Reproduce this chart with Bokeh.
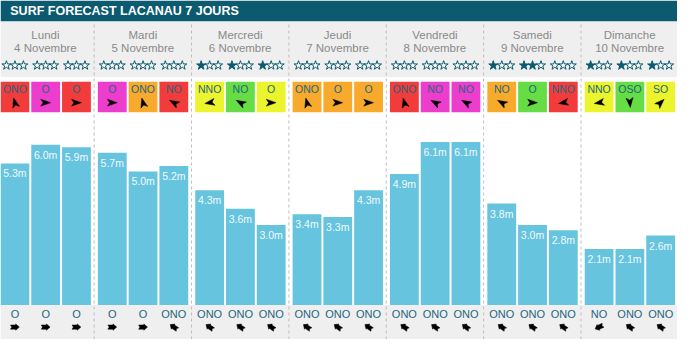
import math
from bokeh.plotting import figure
from bokeh.models import Range1d, ColumnDataSource
from bokeh.core.properties import value
from bokeh.embed import file_html
from bokeh.resources import INLINE

# ---------------- data ----------------
title = "SURF FORECAST LACANAU 7 JOURS"
days = ["Lundi", "Mardi", "Mercredi", "Jeudi", "Vendredi", "Samedi", "Dimanche"]
dates = ["4 Novembre", "5 Novembre", "6 Novembre", "7 Novembre",
         "8 Novembre", "9 Novembre", "10 Novembre"]
wave_heights = [5.3, 6.0, 5.9, 5.7, 5.0, 5.2, 4.3, 3.6, 3.0, 3.4, 3.3, 4.3,
                4.9, 6.1, 6.1, 3.8, 3.0, 2.8, 2.1, 2.1, 2.6]
star_ratings = [0, 0, 0, 0, 0, 0, 1, 1, 1, 0, 0, 0, 0, 0, 0, 1, 2, 0, 1, 1, 1]
wind_dirs = ["ONO", "O", "O", "O", "ONO", "NO", "NNO", "NO", "O", "ONO", "O", "O",
             "ONO", "NO", "NO", "NO", "O", "NNO", "NNO", "OSO", "SO"]
wind_quality = ["red", "magenta", "red", "magenta", "orange", "red",
                "yellow", "green", "yellow", "orange", "orange", "orange",
                "red", "magenta", "magenta", "orange", "green", "red",
                "yellow", "green", "yellow"]
swell_dirs = ["O", "O", "O", "O", "O", "ONO", "ONO", "ONO", "ONO", "ONO", "ONO", "ONO",
              "ONO", "ONO", "ONO", "ONO", "ONO", "ONO", "NO", "ONO", "ONO"]

# ---------------- style ----------------
quality_colors = {"red": "#f23b3b", "magenta": "#ec3dcc", "orange": "#f7aa2c",
                  "yellow": "#ebf42c", "green": "#66dd44"}
wind_arrow_angle = {"O": 0, "ONO": 105, "NO": 150, "NNO": 190, "OSO": 275, "SO": 45}
swell_arrow_angle = {"O": 0, "ONO": 145, "NO": 205}
TEAL = "#0c5a6f"
TXT_TEAL = "#1e6680"
BAR = "#66c4de"
GRAY_BG = "#efefef"
FONT = value("Liberation Sans")

# arrow outlines (pixel units, pointing right)
WIND_SHAPE = [(5.0, 0.0), (-5.0, 3.6), (-2.6, 0.0), (-5.0, -3.6)]
SWELL_SHAPE = [(-4.5, 2.2), (-3.2, 0.0), (-4.5, -2.2), (0.8, -2.2), (0.8, -3.3),
               (4.5, 0.0), (0.8, 3.3), (0.8, 2.2)]

W, H = 693, 355
DAY_W, SLOT_P, BAR_W = 99.67, 31.5, 29.5
PX_PER_M, BASE = 28.0, 319.0


def arrow_paths(cx, cy, angles, shape):
    pxs, pys = [], []
    for x0, y0, a in zip(cx, cy, angles):
        r = math.radians(a)
        c, s = math.cos(r), math.sin(r)
        pxs.append([x0 + u * c - v * s for u, v in shape])
        pys.append([y0 + u * s + v * c for u, v in shape])
    return pxs, pys


p = figure(width=677, height=339, x_range=Range1d(0, W), y_range=Range1d(0, H),
           output_backend="svg", toolbar_location=None, min_border=0,
           x_axis_location=None, y_axis_location=None)
p.grid.visible = False
p.outline_line_color = None
p.background_fill_color = "white"
p.border_fill_color = "white"
p.extra_y_ranges = {"wave": Range1d(-(H - BASE) / PX_PER_M, BASE / PX_PER_M)}

# background bands
p.quad(left=[0, 0, 0], right=[W, W, W], bottom=[H - 22, H - 80, 0], top=[H, H - 22, H - BASE],
       fill_color=[TEAL, GRAY_BG, GRAY_BG], line_color=None)

# slots
n = len(wave_heights)
xs = [(i // 3) * DAY_W + (i % 3) * SLOT_P + BAR_W / 2 for i in range(n)]

# separators
sep_x = [d * DAY_W - 3.8 for d in range(1, len(days))]
p.segment(x0=sep_x, x1=sep_x, y0=[0] * len(sep_x), y1=[H - 22] * len(sep_x),
          line_color="#bdbdbd", line_width=1, line_dash="3 3")

# title
p.text(x=[10], y=[H - 11.5], text=[title], text_font=FONT, text_font_style="bold",
       text_font_size="12.5px", text_color="white", text_align="left", text_baseline="middle")

# day names / dates
day_x = [d * DAY_W + 46 for d in range(len(days))]
p.text(x=day_x, y=[H - 36] * len(days), text=days, text_font=FONT, text_font_size="11.5px",
       text_color="#8a8a8a", text_align="center", text_baseline="middle")
p.text(x=day_x, y=[H - 49.5] * len(days), text=dates, text_font=FONT, text_font_size="11.5px",
       text_color="#8a8a8a", text_align="center", text_baseline="middle")

# stars
sx, sy, sfill = [], [], []
for i, r in enumerate(star_ratings):
    for k in range(3):
        sx.append(xs[i] + (k - 1) * 8.7)
        sy.append(H - 68)
        sfill.append(TEAL if k < r else "white")
p.scatter(x=sx, y=sy, marker="star", size=9.5, fill_color=sfill, line_color=TEAL, line_width=1)

# wind boxes
wsrc = ColumnDataSource(dict(
    left=[x - BAR_W / 2 for x in xs], right=[x + BAR_W / 2 for x in xs],
    color=[quality_colors[q] for q in wind_quality], x=xs, d=wind_dirs))
p.quad(left="left", right="right", bottom=H - 117, top=H - 85, fill_color="color",
       line_color=None, source=wsrc)
p.text(x="x", y=H - 93, text="d", text_font=FONT, text_font_size="10.5px", text_color=TXT_TEAL,
       text_align="center", text_baseline="middle", source=wsrc)
wx, wy = arrow_paths(xs, [H - 107] * n, [wind_arrow_angle[d] for d in wind_dirs], WIND_SHAPE)
p.patches(xs=wx, ys=wy, fill_color="black", line_color="black", line_width=0.5)

# bars
bsrc = ColumnDataSource(dict(x=xs, h=wave_heights,
                             lab=[f"{v:.1f}m" for v in wave_heights],
                             ly=[v - 10.5 / PX_PER_M for v in wave_heights]))
p.vbar(x="x", top="h", bottom=0, width=BAR_W, fill_color=BAR, line_color=None,
       y_range_name="wave", source=bsrc)
p.text(x="x", y="ly", text="lab", text_font=FONT, text_font_size="10.5px", text_color="#f2fafc",
       text_align="center", text_baseline="middle", y_range_name="wave", source=bsrc)

# swell directions
ssrc = ColumnDataSource(dict(x=xs, d=swell_dirs))
p.text(x="x", y=H - 328, text="d", text_font=FONT, text_font_size="11px", text_color=TXT_TEAL,
       text_align="center", text_baseline="middle", source=ssrc)
gx, gy = arrow_paths(xs, [H - 342] * n, [swell_arrow_angle[d] for d in swell_dirs], SWELL_SHAPE)
p.patches(xs=gx, ys=gy, fill_color="black", line_color="black", line_width=0.5)

open("out.html", "w").write(file_html(p, INLINE))
